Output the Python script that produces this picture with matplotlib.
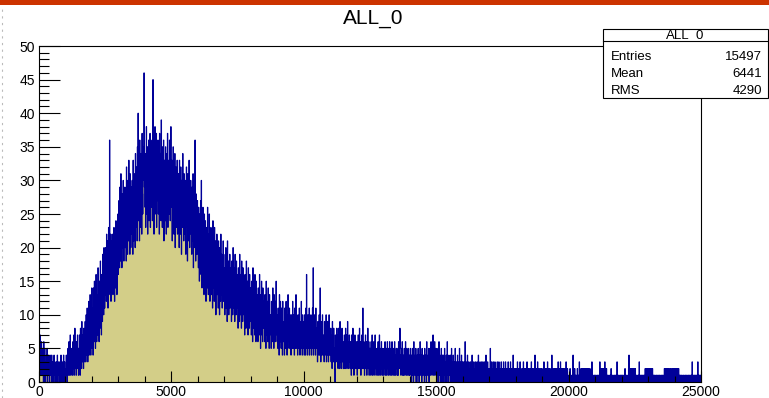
import numpy as np
import matplotlib
matplotlib.use("Agg")
import matplotlib.pyplot as plt
from matplotlib.patches import Rectangle
from matplotlib.lines import Line2D
from matplotlib.ticker import MultipleLocator

# ---- histogram contents: 2000 bins of width 12.5 over 0..25000 ----
counts_a = [  # 0 - 2500
    2, 5, 1, 7, 3, 4, 1, 6, 2, 3, 5, 1, 4, 0, 6, 3, 0, 5, 2, 0,
    3, 1, 4, 2, 5, 0, 3, 2, 4, 1, 3, 0, 2, 4, 1, 3, 2, 0, 4, 1,
    0, 3, 1, 2, 0, 4, 1, 2, 3, 0, 1, 2, 0, 3, 1, 4, 0, 2, 1, 3,
    1, 0, 2, 3, 0, 1, 4, 2, 0, 1, 3, 1, 0, 2, 4, 1, 0, 3, 1, 2,
    0, 2, 4, 1, 3, 0, 2, 5, 1, 3, 6, 2, 1, 4, 7, 2, 1, 5, 3, 2,
    4, 1, 6, 3, 2, 7, 1, 4, 8, 2, 5, 3, 1, 6, 4, 2, 7, 3, 5, 1,
    5, 2, 7, 4, 1, 8, 3, 6, 2, 9, 4, 3, 7, 5, 2, 8, 4, 6, 3, 9,
    6, 3, 10, 5, 4, 11, 7, 3, 9, 6, 12, 4, 8, 5, 13, 7, 4, 10, 6, 14,
    5, 11, 8, 4, 14, 9, 6, 15, 7, 12, 5, 10, 16, 8, 6, 13, 11, 7, 17, 9,
    12, 6, 15, 10, 8, 18, 11, 14, 7, 16, 13, 9, 19, 12, 15, 10, 20, 13, 11, 18,
]
counts_b = [  # 2500 - 5000
    13, 20, 15, 12, 22, 17, 14, 21, 11, 18, 23, 14, 16, 36, 13, 19, 22, 12, 17, 21,
    14, 22, 18, 13, 20, 16, 23, 15, 12, 21, 19, 14, 24, 17, 20, 13, 22, 18, 25, 16,
    19, 27, 22, 17, 29, 24, 18, 31, 21, 26, 17, 28, 23, 20, 30, 25, 18, 27, 22, 29,
    20, 28, 24, 18, 32, 22, 26, 19, 30, 25, 21, 33, 23, 27, 19, 31, 24, 20, 29, 26,
    22, 30, 25, 19, 33, 27, 21, 31, 24, 28, 20, 34, 26, 23, 32, 25, 21, 35, 27, 40,
    24, 33, 27, 21, 36, 29, 23, 34, 26, 31, 22, 37, 28, 25, 35, 30, 32, 46, 29, 33,
    26, 34, 23, 30, 38, 25, 28, 35, 22, 32, 27, 36, 24, 31, 29, 37, 23, 33, 26, 35,
    28, 36, 24, 31, 45, 27, 33, 22, 35, 29, 38, 25, 32, 26, 37, 23, 30, 34, 27, 36,
    25, 33, 29, 22, 37, 31, 26, 34, 24, 39, 28, 32, 23, 35, 30, 27, 36, 21, 33, 29,
    31, 24, 35, 28, 22, 34, 30, 26, 37, 23, 32, 27, 33, 25, 36, 29, 24, 31, 38, 27,
]
counts_c = [  # 5000 - 7500
    26, 33, 21, 29, 24, 35, 27, 22, 31, 25, 34, 20, 28, 32, 23, 30, 26, 33, 22, 29,
    24, 31, 27, 20, 33, 25, 29, 22, 32, 26, 19, 30, 28, 23, 34, 24, 27, 21, 31, 25,
    28, 22, 30, 19, 26, 32, 23, 27, 18, 31, 24, 29, 21, 33, 25, 20, 28, 23, 30, 22,
    26, 19, 29, 24, 21, 31, 17, 27, 23, 30, 20, 36, 25, 18, 28, 22, 26, 19, 27, 21,
    23, 17, 26, 20, 15, 25, 21, 18, 27, 16, 30, 22, 14, 24, 19, 26, 17, 21, 13, 25,
    20, 15, 24, 18, 12, 23, 17, 21, 14, 26, 19, 13, 22, 16, 25, 18, 12, 21, 15, 23,
    19, 13, 22, 16, 11, 24, 17, 14, 20, 12, 23, 18, 15, 21, 10, 19, 16, 22, 13, 18,
    17, 11, 21, 14, 19, 10, 20, 15, 12, 22, 16, 13, 19, 11, 18, 14, 21, 12, 17, 15,
    16, 10, 19, 13, 20, 11, 17, 14, 9, 21, 15, 12, 18, 10, 16, 13, 19, 11, 15, 17,
    14, 9, 18, 12, 16, 10, 20, 13, 11, 17, 15, 9, 19, 12, 14, 10, 18, 13, 16, 11,
]
counts_d = [  # 7500 - 10000
    13, 8, 17, 11, 15, 9, 19, 12, 10, 16, 14, 8, 18, 11, 13, 9, 17, 12, 15, 10,
    12, 7, 16, 10, 14, 8, 18, 11, 9, 15, 13, 7, 17, 10, 12, 8, 16, 11, 14, 9,
    11, 7, 15, 9, 13, 6, 17, 10, 8, 14, 12, 7, 16, 9, 11, 6, 15, 10, 13, 8,
    10, 6, 14, 9, 12, 7, 16, 8, 11, 5, 13, 9, 15, 7, 10, 6, 14, 8, 12, 9,
    9, 6, 13, 8, 11, 5, 15, 9, 7, 12, 10, 6, 14, 8, 11, 5, 13, 7, 10, 9,
    9, 5, 12, 8, 10, 6, 14, 7, 11, 5, 13, 8, 9, 6, 12, 7, 15, 8, 10, 6,
    8, 5, 11, 7, 10, 4, 13, 8, 6, 12, 9, 5, 11, 7, 10, 4, 12, 8, 9, 6,
    8, 4, 11, 6, 9, 5, 12, 7, 10, 4, 8, 6, 13, 7, 9, 5, 11, 6, 10, 5,
    7, 4, 10, 6, 9, 5, 12, 8, 5, 10, 7, 4, 11, 6, 9, 5, 13, 7, 8, 5,
    7, 4, 10, 6, 8, 5, 11, 7, 4, 9, 6, 5, 12, 7, 8, 4, 10, 6, 9, 5,
]
counts_e = [  # 10000 - 12500
    6, 4, 10, 5, 8, 4, 11, 6, 16, 5, 9, 4, 10, 6, 8, 5, 11, 4, 9, 6,
    5, 10, 7, 4, 9, 6, 11, 5, 17, 4, 8, 6, 10, 5, 9, 4, 11, 6, 8, 5,
    6, 3, 9, 5, 8, 4, 10, 6, 4, 14, 7, 3, 9, 5, 8, 4, 10, 5, 7, 4,
    5, 3, 9, 6, 4, 8, 5, 10, 3, 7, 5, 9, 4, 8, 3, 6, 10, 4, 7, 5,
    4, 8, 3, 7, 5, 2, 9, 4, 6, 3, 8, 4, 5, 2, 0, 7, 3, 6, 4, 8,
    3, 7, 4, 2, 8, 5, 3, 6, 2, 9, 4, 3, 7, 2, 5, 8, 3, 4, 6, 2,
    5, 2, 7, 3, 6, 2, 8, 4, 3, 7, 2, 5, 9, 3, 6, 2, 4, 7, 3, 5,
    2, 6, 4, 1, 7, 3, 5, 2, 8, 3, 4, 1, 6, 3, 7, 2, 5, 3, 6, 2,
    4, 1, 6, 3, 7, 2, 5, 3, 8, 2, 4, 6, 1, 5, 3, 7, 2, 4, 11, 3,
    2, 6, 3, 1, 5, 4, 7, 2, 3, 6, 1, 5, 3, 8, 2, 4, 6, 1, 5, 3,
]
counts_f = [  # 12500 - 15000
    3, 5, 1, 6, 2, 4, 7, 1, 3, 5, 2, 6, 1, 4, 3, 7, 2, 5, 1, 4,
    2, 5, 3, 1, 6, 2, 4, 1, 7, 3, 2, 5, 1, 4, 6, 2, 3, 1, 5, 2,
    4, 1, 5, 2, 3, 6, 1, 4, 2, 5, 1, 3, 6, 2, 4, 1, 5, 3, 2, 6,
    1, 4, 2, 5, 1, 3, 6, 2, 4, 1, 5, 2, 3, 1, 6, 2, 4, 1, 3, 5,
    2, 5, 1, 3, 4, 1, 6, 2, 3, 5, 8, 2, 4, 1, 3, 5, 2, 6, 1, 3,
    4, 1, 3, 5, 2, 1, 4, 6, 2, 3, 1, 5, 2, 4, 1, 3, 5, 2, 1, 4,
    1, 3, 5, 2, 4, 0, 3, 1, 5, 2, 4, 0, 6, 2, 3, 1, 4, 2, 5, 0,
    3, 0, 4, 2, 1, 5, 2, 3, 0, 4, 2, 6, 1, 3, 2, 4, 0, 5, 2, 3,
    1, 4, 2, 3, 0, 5, 2, 1, 4, 3, 0, 6, 2, 3, 1, 4, 2, 5, 0, 3,
    2, 5, 1, 4, 6, 2, 3, 1, 5, 2, 7, 3, 1, 4, 2, 6, 1, 3, 5, 2,
]
counts_g = [  # 15000 - 17500
    3, 0, 5, 2, 1, 4, 0, 3, 6, 1, 2, 4, 0, 3, 1, 5, 2, 0, 4, 1,
    2, 4, 0, 3, 1, 5, 2, 0, 3, 1, 4, 0, 2, 6, 1, 3, 0, 2, 4, 1,
    3, 1, 0, 4, 2, 1, 5, 0, 2, 3, 1, 4, 0, 2, 1, 3, 0, 5, 1, 2,
    0, 3, 2, 1, 4, 0, 2, 1, 3, 0, 5, 1, 2, 0, 3, 1, 4, 2, 0, 3,
    1, 2, 0, 3, 1, 0, 2, 6, 1, 0, 3, 1, 2, 0, 4, 1, 0, 2, 3, 1,
    0, 2, 1, 3, 0, 1, 2, 0, 4, 1, 0, 2, 1, 3, 0, 2, 1, 0, 3, 1,
    2, 0, 1, 3, 1, 0, 2, 4, 0, 1, 2, 0, 3, 1, 0, 2, 1, 3, 0, 1,
    1, 3, 0, 2, 1, 0, 3, 1, 2, 0, 4, 1, 0, 2, 1, 3, 0, 1, 2, 0,
    2, 1, 0, 5, 1, 2, 0, 3, 1, 0, 2, 1, 3, 0, 2, 1, 0, 3, 1, 2,
    0, 2, 1, 0, 3, 1, 2, 0, 1, 3, 0, 2, 1, 0, 2, 1, 3, 0, 1, 2,
]
counts_h = [  # 17500 - 20000
    1, 0, 2, 3, 0, 1, 2, 0, 1, 3, 0, 2, 1, 0, 1, 2, 0, 3, 1, 0,
    2, 1, 0, 1, 3, 0, 2, 1, 0, 2, 1, 0, 4, 1, 0, 2, 1, 0, 1, 2,
    0, 1, 2, 0, 1, 3, 0, 1, 2, 0, 1, 0, 2, 3, 0, 1, 2, 0, 1, 0,
    1, 2, 0, 3, 1, 0, 1, 2, 0, 1, 2, 0, 1, 0, 3, 1, 0, 2, 1, 0,
    2, 0, 1, 0, 2, 1, 0, 3, 1, 0, 1, 2, 0, 1, 0, 2, 1, 0, 4, 1,
    0, 1, 2, 0, 1, 0, 3, 1, 0, 2, 1, 0, 1, 2, 0, 1, 0, 2, 1, 0,
    1, 0, 2, 1, 0, 3, 1, 0, 1, 2, 0, 1, 0, 2, 1, 0, 3, 1, 0, 2,
    0, 2, 1, 0, 1, 0, 2, 1, 0, 4, 1, 0, 2, 1, 0, 1, 2, 0, 1, 0,
    2, 1, 0, 1, 2, 0, 1, 0, 3, 1, 0, 2, 1, 0, 1, 3, 0, 1, 2, 0,
    1, 0, 2, 0, 1, 2, 0, 1, 0, 2, 1, 0, 3, 1, 0, 1, 2, 0, 1, 0,
]
counts_i = [  # 20000 - 22500
    0, 1, 0, 1, 2, 0, 1, 0, 0, 1, 0, 1, 0, 4, 1, 0, 1, 0, 2, 0,
    1, 0, 1, 0, 0, 1, 2, 0, 1, 0, 1, 0, 3, 0, 1, 1, 0, 2, 0, 1,
    2, 0, 1, 2, 0, 1, 2, 0, 2, 1, 0, 2, 1, 0, 2, 0, 1, 2, 0, 1,
    2, 0, 1, 0, 2, 1, 0, 1, 0, 1, 3, 0, 1, 0, 1, 0, 0, 1, 0, 1,
    0, 1, 0, 1, 0, 0, 1, 0, 1, 0, 1, 0, 1, 0, 3, 0, 1, 2, 0, 1,
    2, 0, 1, 2, 0, 1, 2, 0, 1, 3, 0, 2, 1, 0, 2, 0, 1, 0, 1, 0,
    0, 1, 0, 1, 0, 0, 1, 0, 2, 0, 1, 0, 1, 0, 1, 0, 0, 1, 0, 1,
    1, 0, 1, 0, 0, 1, 3, 0, 1, 0, 1, 0, 1, 0, 0, 1, 0, 1, 0, 1,
    0, 1, 0, 1, 0, 1, 0, 0, 1, 0, 2, 0, 1, 0, 1, 0, 1, 0, 0, 1,
    0, 2, 4, 0, 2, 1, 0, 2, 0, 1, 2, 0, 1, 2, 0, 2, 1, 0, 2, 0,
]
counts_j = [  # 22500 - 25000
    1, 2, 0, 1, 0, 1, 0, 1, 0, 0, 1, 0, 1, 3, 0, 1, 0, 1, 0, 1,
    0, 1, 0, 1, 0, 1, 0, 1, 0, 0, 1, 2, 0, 1, 2, 0, 1, 0, 2, 1,
    0, 2, 1, 0, 2, 1, 0, 2, 0, 1, 2, 0, 1, 2, 0, 1, 0, 1, 0, 1,
    0, 1, 0, 0, 1, 0, 1, 0, 1, 0, 0, 1, 0, 1, 0, 1, 0, 0, 1, 0,
    1, 0, 1, 0, 1, 0, 0, 1, 0, 2, 0, 1, 2, 0, 1, 2, 0, 1, 0, 2,
    0, 1, 2, 0, 1, 0, 2, 1, 0, 2, 0, 1, 0, 2, 1, 0, 2, 0, 1, 2,
    0, 1, 2, 0, 1, 2, 0, 1, 0, 2, 1, 0, 2, 0, 1, 0, 1, 0, 1, 0,
    1, 0, 1, 0, 0, 1, 0, 1, 0, 1, 0, 0, 1, 0, 1, 0, 1, 0, 0, 1,
    0, 1, 0, 1, 0, 1, 0, 0, 1, 0, 1, 0, 1, 3, 0, 1, 0, 1, 0, 1,
    0, 1, 0, 1, 0, 1, 0, 1, 0, 1, 3, 0, 1, 0, 1, 0, 1, 0, 1, 1,
]

x_range = (0, 25000)
y_range = (0, 50)
title_text = "ALL_0"
stats_names = ["Entries", "Mean", "RMS"]
stats_values = ["15497", "6441", "4290"]

counts = np.array(counts_a + counts_b + counts_c + counts_d + counts_e
                  + counts_f + counts_g + counts_h + counts_i + counts_j, dtype=float)
assert counts.size == 2000, counts.size
edges = np.linspace(x_range[0], x_range[1], counts.size + 1)

# ---- styling ----
FONT = ["Liberation Sans", "DejaVu Sans"]
plt.rcParams["font.family"] = FONT
FILL = "#d3ce88"
LINE = "#000099"

W, H = 769, 398
fig = plt.figure(figsize=(W / 100, H / 100), dpi=100)
fig.patch.set_facecolor("white")


def fx(px):
    return px / W


def fy(py):
    return 1 - py / H


# frame of the pad: left 39, right 701, top 46, bottom 382 (pixels)
ax = fig.add_axes([fx(39), fy(382), fx(701) - fx(39), fy(46) - fy(382)])
ax.stairs(counts, edges, fill=True, facecolor=FILL, edgecolor="none", lw=0)
ax.stairs(counts, edges, color=LINE, lw=0.8)
ax.set_xlim(*x_range)
ax.set_ylim(*y_range)

ax.xaxis.set_major_locator(MultipleLocator(5000))
ax.xaxis.set_minor_locator(MultipleLocator(1000))
ax.yaxis.set_major_locator(MultipleLocator(5))
ax.yaxis.set_minor_locator(MultipleLocator(1))
ax.tick_params(axis="x", which="major", direction="in", length=8, width=0.8,
               labelsize=10, pad=2, top=False)
ax.tick_params(axis="x", which="minor", direction="in", length=4, width=0.8, top=False)
ax.tick_params(axis="y", which="major", direction="in", length=15, width=0.8,
               labelsize=10, pad=3, right=False)
ax.tick_params(axis="y", which="minor", direction="in", length=7.5, width=0.8, right=False)
for s in ax.spines.values():
    s.set_linewidth(0.8)
    s.set_color("black")
for t in ax.get_xticklines() + ax.get_yticklines():
    t.set_zorder(5)

# title
fig.text(fx(373), fy(18), title_text, ha="center", va="center", fontsize=15)

# top banner and page edge
fig.add_artist(Rectangle((0, fy(5)), 1, 5 / H, transform=fig.transFigure,
                         facecolor="#cc3300", edgecolor="none", zorder=10))
fig.add_artist(Line2D([fx(1.5), fx(1.5)], [0, fy(6)], transform=fig.transFigure,
                      color="#bbbbbb", lw=0.8, ls=(0, (2, 4)), zorder=10))

# statistics box
bx0, bx1, by0, by1 = 603, 768, 29, 98
fig.add_artist(Rectangle((fx(bx0), fy(by1)), fx(bx1) - fx(bx0), fy(by0) - fy(by1),
                         transform=fig.transFigure, facecolor="white",
                         edgecolor="black", lw=0.8, zorder=10))
fig.add_artist(Line2D([fx(bx0), fx(bx1)], [fy(41), fy(41)], transform=fig.transFigure,
                      color="black", lw=0.8, zorder=11))
fig.text(fx((bx0 + bx1) / 2), fy(35), title_text, ha="center", va="center",
         fontsize=9.5, zorder=12)
for k, (name, val) in enumerate(zip(stats_names, stats_values)):
    yy = 57 + 17 * k
    fig.text(fx(611), fy(yy), name, ha="left", va="center", fontsize=9.5, zorder=12)
    fig.text(fx(762), fy(yy), val, ha="right", va="center", fontsize=9.5, zorder=12)

fig.savefig("out.png", dpi=100)
